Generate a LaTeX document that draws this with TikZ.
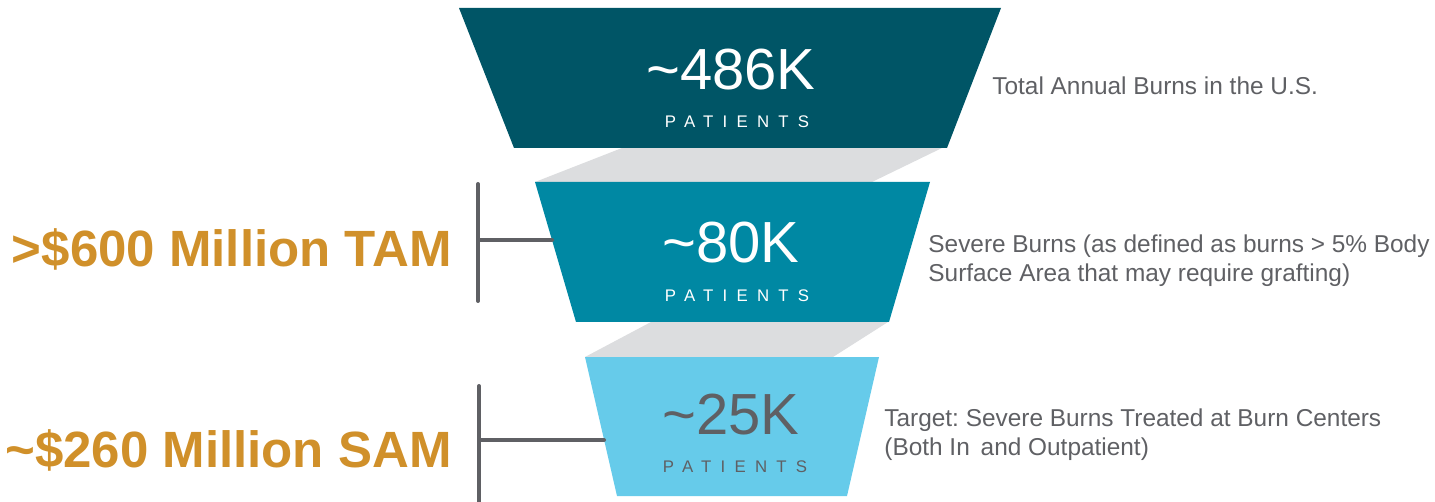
\documentclass[tikz,border=0pt]{standalone}
\usepackage{fontspec}
\setmainfont{Liberation Sans}
\newfontfamily\spacedfont[LetterSpace=55]{Liberation Sans}
\definecolor{funneltop}{HTML}{005566}
\definecolor{funnelmid}{HTML}{0088A3}
\definecolor{funnellow}{HTML}{66CBEA}
\definecolor{bandgray}{HTML}{DCDDDF}
\definecolor{textgray}{HTML}{5F6064}
\definecolor{marketgold}{HTML}{D0902A}
\frenchspacing
\begin{document}
\begin{tikzpicture}[x=0.5pt, y=-0.5pt, line cap=round, line join=round,
	bignum/.style={font=\fontsize{29}{29}\selectfont, inner sep=0pt, anchor=base},
	patients/.style={font=\spacedfont\fontsize{8.4}{8.4}\selectfont, inner sep=0pt, anchor=base},
	market/.style={font=\bfseries\fontsize{25.5}{25.5}\selectfont, text=marketgold, inner sep=0pt, anchor=base east},
	note/.style={font=\fontsize{12.2}{14.6}\selectfont, text=textgray, inner sep=0pt, align=left, anchor=north west},
	bracket/.style={draw=textgray, line width=2pt}]
	\useasboundingbox (0,0) rectangle (1435,502);
	% Dải xám nối các tầng
	\fill[bandgray] (622,148) -- (942,148) -- (872,182) -- (535,182) -- cycle;
	\fill[bandgray] (651,322) -- (888,322) -- (833,357) -- (585,357) -- cycle;
	% Tầng trên
	\fill[funneltop] (459,8) -- (1001,8) -- (947,148) -- (514,148) -- cycle;
	% Tầng giữa
	\fill[funnelmid] (535,182) -- (930,182) -- (889,322) -- (576,322) -- cycle;
	% Tầng dưới
	\fill[funnellow] (585,357) -- (879,357) -- (847,496) -- (617,496) -- cycle;
	% Số bệnh nhân
	\node[bignum, text=white] (total) at (731,90) {\textasciitilde 486K};
	\node[patients, text=white] (totalp) at (737,128) {PATIENTS};
	\node[bignum, text=white] (severe) at (731,263) {\textasciitilde 80K};
	\node[patients, text=white] (severep) at (737,301) {PATIENTS};
	\node[bignum, text=textgray] (target) at (731,434) {\textasciitilde 25K};
	\node[patients, text=textgray] (targetp) at (735,472) {PATIENTS};
	% Chú thích bên phải
	\node[note] (totalnote) at (992,76) {Total Annual Burns in the U.S.};
	\node[note] (severenote) at (928,234) {Severe Burns (as defined as burns > 5\% Body\\Surface Area that may require grafting)};
	\node[note] (targetnote) at (884,408) {Target: Severe Burns Treated at Burn Centers\\(Both In\, and Outpatient)};
	% TAM và SAM
	\node[market] (tam) at (452,267) {>\$600 Million TAM};
	\node[market] (sam) at (452,467) {\textasciitilde\$260 Million SAM};
	% Ngoặc
	\coordinate (tamtop) at (478,184);
	\coordinate (tambot) at (478,301);
	\coordinate (tammid) at (478,240);
	\coordinate (midedge) at (552,240);
	\coordinate (samtop) at (479,386);
	\coordinate (sambot) at (479,506);
	\coordinate (sammid) at (479,440);
	\coordinate (lowedge) at (604,440);
	\draw[bracket] (tamtop) -- (tambot);
	\draw[bracket] (tammid) -- (midedge);
	\draw[bracket] (samtop) -- (sambot);
	\draw[bracket] (sammid) -- (lowedge);
\end{tikzpicture}
\end{document}
